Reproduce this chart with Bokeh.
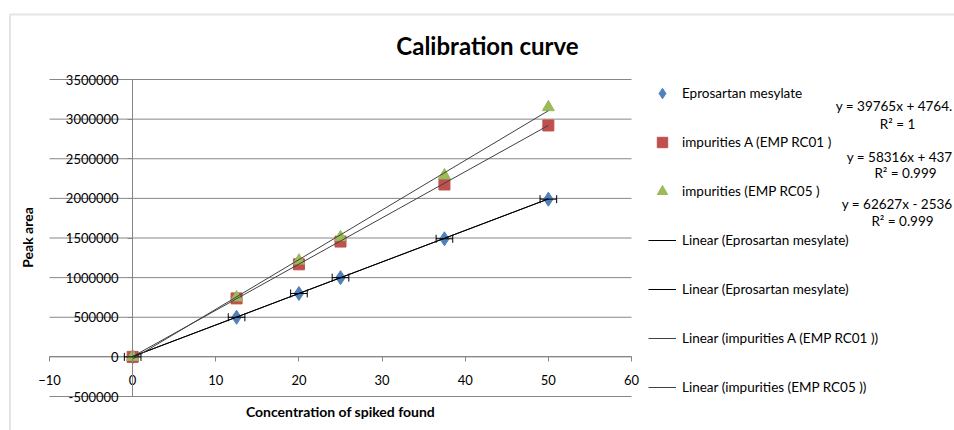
import math
from bokeh.plotting import figure
from bokeh.models import (Label, Legend, LegendItem, Whisker, ColumnDataSource,
                          FixedTicker, Range1d, TeeHead, PolyAnnotation)
from bokeh.embed import file_html
from bokeh.resources import INLINE

# ---------------- data ----------------
conc = [0, 12.5, 20, 25, 37.5, 50]
area_epro = [0, 500000, 800000, 1000000, 1490000, 1990000]
area_rc01 = [0, 738000, 1168000, 1455000, 2175000, 2920000]
area_rc05 = [0, 750000, 1215000, 1510000, 2290000, 3150000]
epro_xerr = [1, 1, 1, 1, 1, 1]

series_names = ["Eprosartan mesylate", "impurities A (EMP RC01 )", "impurities (EMP RC05 )"]

fit_x = [0, 50]
slopes = [39765, 39765, 58316, 62627]
intercepts = [4764, 4764, 4370, -25360]
trend_names = ["Linear (Eprosartan mesylate)", "Linear (Eprosartan mesylate)",
               "Linear (impurities A (EMP RC01 ))", "Linear (impurities (EMP RC05 ))"]

eq_texts = ["y = 39765x + 4764.", "y = 58316x + 437", "y = 62627x - 2536"]
r2_texts = ["R² = 1", "R² = 0.999", "R² = 0.999"]

x_ticks = [-10, 0, 10, 20, 30, 40, 50, 60]
y_ticks = [-500000, 0, 500000, 1000000, 1500000, 2000000, 2500000, 3000000, 3500000]
y_tick_labels = ["-500000", "0", "500000", "1000000", "1500000", "2000000", "2500000", "3000000", "3500000"]

title_text = "Calibration curve"
x_title = "Concentration of spiked found"
y_title = "Peak area"

# ---------------- layout (pixels) ----------------
FONT = "Lato"
GRID = "#868686"
BLUE, RED, GREEN = "#4F81BD", "#C0504D", "#9BBB59"

W, H = 954, 430
PL, PR, PT, PB = 49, 631, 79, 396   # plot-area edges in canvas px

xmin, xmax = x_ticks[0], x_ticks[-1]
ymin, ymax = y_ticks[0], y_ticks[-1]
ux = (xmax - xmin) / (PR - PL)
uy = (ymax - ymin) / (PB - PT)
x_range = Range1d(xmin - PL * ux, xmax + (W - PR) * ux)
y_range = Range1d(ymin - (H - PB) * uy, ymax + PT * uy)

p = figure(width=W, height=H, output_backend="svg", toolbar_location=None,
           x_range=x_range, y_range=y_range,
           min_border_left=0, min_border_right=0, min_border_top=0, min_border_bottom=0)
p.outline_line_color = None
p.background_fill_color = "white"
p.border_fill_color = "white"
p.xgrid.visible = False
p.ygrid.visible = False

# chart-area border (top and left visible)
p.add_layout(PolyAnnotation(xs=[9.5, 9.5, W + 10, W + 10], ys=[-10, H - 14, H - 14, -10],
                            xs_units="screen", ys_units="screen",
                            fill_alpha=0, line_color="#a6a6a6", line_width=2))

# horizontal gridlines over the plot area only
p.segment(x0=[xmin] * len(y_ticks), x1=[xmax] * len(y_ticks), y0=y_ticks, y1=y_ticks,
          line_color=GRID, line_width=1)

# axes crossing at zero
p.xaxis.fixed_location = 0
p.yaxis.fixed_location = 0
p.xaxis.bounds = (xmin, xmax)
p.yaxis.bounds = (ymin, ymax)
p.xaxis.ticker = FixedTicker(ticks=x_ticks)
p.yaxis.ticker = FixedTicker(ticks=y_ticks)
p.yaxis.major_label_overrides = {t: l for t, l in zip(y_ticks, y_tick_labels)}
for ax in (p.xaxis, p.yaxis):
    ax.axis_line_color = GRID
    ax.major_tick_line_color = GRID
    ax.minor_tick_line_color = None
    ax.major_tick_in = 0
    ax.major_tick_out = 5
    ax.major_label_text_font = FONT
    ax.major_label_text_font_size = "13px"
    ax.major_label_text_color = "black"
    ax.axis_label = None
p.xaxis.major_label_standoff = 13
p.yaxis.major_label_standoff = 9

# ---------------- markers ----------------
r_blue = p.scatter(conc, area_epro, marker="diamond", size=14,
                   fill_color=BLUE, line_color=BLUE)
r_red = p.scatter(conc, area_rc01, marker="square", size=11,
                  fill_color=RED, line_color=RED)
r_green = p.scatter(conc, area_rc05, marker="triangle", size=12,
                    fill_color=GREEN, line_color=GREEN)

# ---------------- trendlines ----------------
trend_colors = ["black", "black", "#404040", "#404040"]
trend_rs = []
for s, b, c in zip(slopes, intercepts, trend_colors):
    ys = [s * x + b for x in fit_x]
    trend_rs.append(p.line(fit_x, ys, line_color=c, line_width=1))

# ---------------- x error bars ----------------
src = ColumnDataSource(dict(
    base=area_epro,
    lower=[c - e for c, e in zip(conc, epro_xerr)],
    upper=[c + e for c, e in zip(conc, epro_xerr)],
))
wh = Whisker(source=src, base="base", lower="lower", upper="upper", dimension="width",
             line_color="black", line_width=1, level="overlay",
             upper_head=TeeHead(size=8, line_color="black", line_width=1),
             lower_head=TeeHead(size=8, line_color="black", line_width=1))
p.add_layout(wh)

# ---------------- legend ----------------
items = [LegendItem(label=series_names[0], renderers=[r_blue]),
         LegendItem(label=series_names[1], renderers=[r_red]),
         LegendItem(label=series_names[2], renderers=[r_green])]
for name, r in zip(trend_names, trend_rs):
    items.append(LegendItem(label=name, renderers=[r]))
legend = Legend(items=items, location=(648, H - 400), orientation="vertical",
                glyph_width=28, glyph_height=26, label_height=26, spacing=23,
                label_standoff=6, padding=0, margin=0,
                border_line_color=None, background_fill_alpha=0,
                label_text_font=FONT, label_text_font_size="13.5px",
                label_text_color="black")
p.add_layout(legend, "center")

# ---------------- trendline equations ----------------
eq_pos = [(W - 2, H - 105), (W - 2, H - 156), (W - 2, H - 203)]
r2_pos = [(897, H - 123), (905, H - 172), (902, H - 220)]
for t, (x, y) in zip(eq_texts, eq_pos):
    p.add_layout(Label(x=x, y=y, x_units="screen", y_units="screen", text=t,
                       text_align="right", text_baseline="middle",
                       text_font=FONT, text_font_size="13.5px", text_color="black"))
for t, (x, y) in zip(r2_texts, r2_pos):
    p.add_layout(Label(x=x, y=y, x_units="screen", y_units="screen", text=t,
                       text_align="center", text_baseline="middle",
                       text_font=FONT, text_font_size="13.5px", text_color="black"))

# ---------------- titles ----------------
p.add_layout(Label(x=487, y=H - 45, x_units="screen", y_units="screen", text=title_text,
                   text_align="center", text_baseline="middle", text_font=FONT,
                   text_font_size="24px", text_font_style="bold", text_color="black"))
p.add_layout(Label(x=340, y=H - 411, x_units="screen", y_units="screen", text=x_title,
                   text_align="center", text_baseline="middle", text_font=FONT,
                   text_font_size="14px", text_font_style="bold", text_color="black"))
p.add_layout(Label(x=27, y=H - 237, x_units="screen", y_units="screen", text=y_title,
                   angle=math.pi / 2, text_align="center", text_baseline="middle",
                   text_font=FONT, text_font_size="14px", text_font_style="bold",
                   text_color="black"))

open("out.html", "w").write(file_html(p, INLINE))
